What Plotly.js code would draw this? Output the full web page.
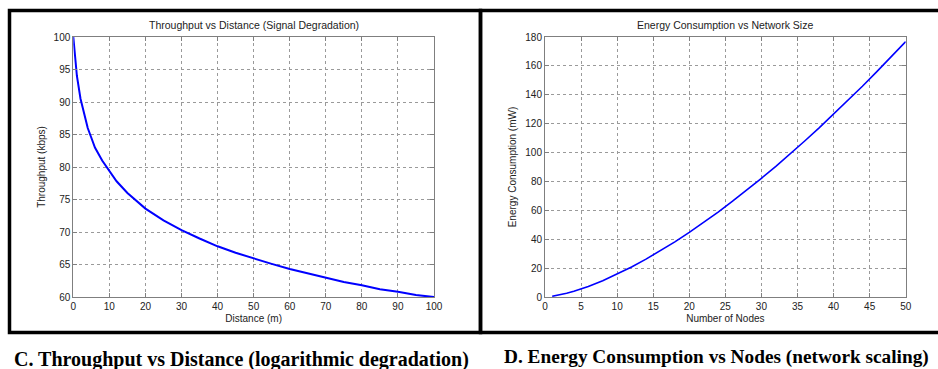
<!DOCTYPE html>
<html>
<head>
<meta charset="utf-8">
<script src="https://cdn.plot.ly/plotly-3.0.1.min.js"></script>
<style>html,body{margin:0;padding:0;background:#fff;}#chart{width:938px;height:369px;}</style>
</head>
<body>
<div id="chart"></div>
<script>
// Panel C: throughput vs distance
const distance = [0,1,2,3,4,5,6,8,10,12,15,20,25,30,35,40,45,50,55,60,65,70,75,80,85,90,95,100];
const throughput = [100,94,90.5,88,86,84.5,83,81,79.3,77.8,76,73.6,71.8,70.3,69,67.8,66.8,65.9,65.1,64.3,63.6,63,62.3,61.8,61.2,60.8,60.3,60];
// Panel D: energy vs nodes
const nodes = [1,2,3,4,5,6,8,10,12,14,16,18,20,22,24,26,28,30,32,34,36,38,40,42,44,46,48,50];
const energy = [0.5,1.4,2.6,4,5.6,7.3,11.3,15.8,20.8,26.2,32,38.2,44.7,51.6,58.8,66.3,74.1,82.2,90.5,99.1,108,117.1,126.5,136.1,145.9,156,166.3,176.8];

const titles = ['Throughput vs Distance (Signal Degradation)', 'Energy Consumption vs Network Size'];
const xTitles = ['Distance (m)', 'Number of Nodes'];
const yTitles = ['Throughput (kbps)', 'Energy Consumption (mW)'];
const captions = ['C. Throughput vs Distance (logarithmic degradation)', 'D. Energy Consumption vs Nodes (network scaling)'];

const W = 938, H = 369;
const px = v => v / W;
const py = v => (H - v) / H;

const axisStyle = {
  showline: true, mirror: 'ticks', linecolor: '#7f7f7f', linewidth: 1,
  ticks: 'inside', ticklen: 4, tickcolor: '#7f7f7f',
  showgrid: true, gridcolor: '#9a9a9a', griddash: 'dot', gridwidth: 1,
  zeroline: false, tickfont: {family: 'Liberation Sans, Arial, sans-serif', size: 10, color: '#222'},
  title: {font: {family: 'Liberation Sans, Arial, sans-serif', size: 10, color: '#222'}}
};

const traces = [
  {x: distance, y: throughput, type: 'scatter', mode: 'lines', line: {color: '#0000ff', width: 2}, xaxis: 'x', yaxis: 'y', hoverinfo: 'skip'},
  {x: nodes, y: energy, type: 'scatter', mode: 'lines', line: {color: '#0000ff', width: 1.6}, xaxis: 'x2', yaxis: 'y2', hoverinfo: 'skip'}
];

const layout = {
  width: W, height: H,
  margin: {l: 0, r: 0, t: 0, b: 0},
  paper_bgcolor: '#fff', plot_bgcolor: '#fff',
  showlegend: false,
  xaxis: Object.assign({}, axisStyle, {domain: [px(73.3), px(434)], range: [0, 100], dtick: 10, tick0: 0, anchor: 'y',
    title: {text: xTitles[0], standoff: 3, font: axisStyle.title.font}}),
  yaxis: Object.assign({}, axisStyle, {domain: [py(297), py(37)], range: [60, 100], dtick: 5, tick0: 60, anchor: 'x',
    title: {text: yTitles[0], standoff: 6, font: axisStyle.title.font}}),
  xaxis2: Object.assign({}, axisStyle, {domain: [px(545), px(905.7)], range: [0, 50], dtick: 5, tick0: 0, anchor: 'y2',
    title: {text: xTitles[1], standoff: 3, font: axisStyle.title.font}}),
  yaxis2: Object.assign({}, axisStyle, {domain: [py(297), py(37)], range: [0, 180], dtick: 20, tick0: 0, anchor: 'x2',
    title: {text: yTitles[1], standoff: 6, font: axisStyle.title.font}}),
  shapes: [
    {type: 'rect', xref: 'paper', yref: 'paper', x0: px(9.5), x1: px(480.5), y0: py(332.5), y1: py(10.5), line: {color: '#000', width: 3.5}},
    {type: 'rect', xref: 'paper', yref: 'paper', x0: px(480.5), x1: px(945), y0: py(332.5), y1: py(10.5), line: {color: '#000', width: 3.5}}
  ],
  annotations: [
    {text: titles[0], xref: 'paper', yref: 'paper', x: px(253.6), y: py(25), xanchor: 'center', yanchor: 'middle', showarrow: false,
      font: {family: 'Liberation Sans, Arial, sans-serif', size: 10.5, color: '#222'}},
    {text: titles[1], xref: 'paper', yref: 'paper', x: px(725.3), y: py(25), xanchor: 'center', yanchor: 'middle', showarrow: false,
      font: {family: 'Liberation Sans, Arial, sans-serif', size: 10.5, color: '#222'}},
    {text: '<b>' + captions[0] + '</b>', xref: 'paper', yref: 'paper', x: px(12), y: py(359), xanchor: 'left', yanchor: 'middle', showarrow: false,
      font: {family: 'Liberation Serif, Times New Roman, serif', size: 20, color: '#000'}},
    {text: '<b>' + captions[1] + '</b>', xref: 'paper', yref: 'paper', x: px(502), y: py(357), xanchor: 'left', yanchor: 'middle', showarrow: false,
      font: {family: 'Liberation Serif, Times New Roman, serif', size: 19.3, color: '#000'}}
  ]
};

Plotly.newPlot('chart', traces, layout, {staticPlot: true, displayModeBar: false});
</script>
</body>
</html>
